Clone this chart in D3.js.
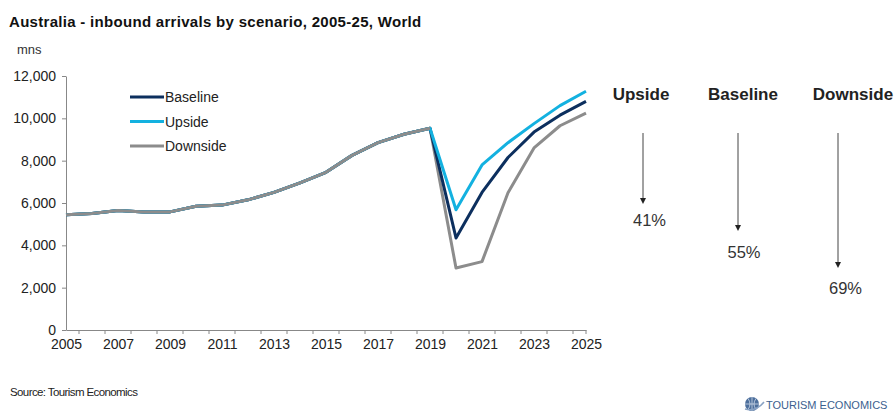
<!DOCTYPE html>
<html><head><meta charset="utf-8">
<script src="https://cdn.jsdelivr.net/npm/d3@7"></script>
<style>body{margin:0;background:#fff;}svg{display:block;font-family:"Liberation Sans",Arial,sans-serif;}</style>
</head><body>
<svg id="c" width="894" height="412"></svg>
<script>
const years = d3.range(2005, 2026);
const baseline = [5450,5500,5650,5580,5580,5850,5900,6150,6500,6950,7450,8250,8850,9250,9530,4350,6500,8150,9350,10150,10800];
const upside   = [5450,5500,5650,5580,5580,5850,5900,6150,6500,6950,7450,8250,8850,9250,9530,5680,7800,8850,9750,10600,11280];
const downside = [5450,5500,5650,5580,5580,5850,5900,6150,6500,6950,7450,8250,8850,9250,9530,2930,3230,6480,8600,9650,10250];
const yTicks = [0,2000,4000,6000,8000,10000,12000];
const xTickLabels = [2005,2007,2009,2011,2013,2015,2017,2019,2021,2023,2025];
const scenarioNames = ["Upside","Baseline","Downside"];
const declines = ["41%","55%","69%"];

const svg = d3.select("#c");
const x = d3.scaleLinear().domain([2005,2025]).range([66,586]);
const y = d3.scaleLinear().domain([0,12000]).range([330,76]);

svg.append("text").attr("x",9).attr("y",27).attr("font-size",15).attr("font-weight","bold").attr("fill","#111")
  .attr("letter-spacing",0.3).text("Australia - inbound arrivals by scenario, 2005-25, World");
svg.append("text").attr("x",17).attr("y",54).attr("font-size",13).attr("fill","#333").text("mns");

const yAxis = svg.append("g").attr("transform","translate(66,0)")
  .call(d3.axisLeft(y).tickValues(yTicks).tickFormat(d3.format(",")).tickSize(4).tickSizeOuter(0));
yAxis.select(".domain").attr("stroke","#888");
yAxis.selectAll(".tick line").attr("stroke","#888");
yAxis.selectAll("text").attr("font-size",14).attr("fill","#222").attr("x",-10).attr("font-family","Liberation Sans, Arial");

// x axis: labels at years, tick marks between years
const xAxis = svg.append("g").attr("transform","translate(0,330)")
  .call(d3.axisBottom(x).tickValues(xTickLabels).tickFormat(d => d).tickSize(0).tickSizeOuter(0));
xAxis.select(".domain").attr("stroke","#888");
xAxis.selectAll("text").attr("font-size",14).attr("fill","#222").attr("y",9).attr("font-family","Liberation Sans, Arial");
const midTicks = years.slice(0,-1).map(d => d + 0.5).concat([2025]);
svg.append("g").selectAll("line").data(midTicks).join("line")
  .attr("x1",d=>x(d)).attr("x2",d=>x(d)).attr("y1",330).attr("y2",334).attr("stroke","#888");

const series = [
  {name:"Downside", values:downside, color:"#8c8c8c"},
  {name:"Baseline", values:baseline, color:"#0c2f5e"},
  {name:"Upside", values:upside, color:"#13b1e0"}
];
const line = d3.line().x((d,i)=>x(years[i])).y(d=>y(d));
series.forEach(s => {
  svg.append("path").datum(s.values).attr("d",line).attr("fill","none")
    .attr("stroke",s.color).attr("stroke-width",3).attr("stroke-linejoin","round");
});
svg.append("path").datum(downside.slice(0,15)).attr("d",line).attr("fill","none")
  .attr("stroke","#8c8c8c").attr("stroke-width",3).attr("stroke-linejoin","round");

const legend = [{name:"Baseline",color:"#0c2f5e"},{name:"Upside",color:"#13b1e0"},{name:"Downside",color:"#8c8c8c"}];
legend.forEach((l,i) => {
  const ly = 97 + i*24.5;
  svg.append("line").attr("x1",130).attr("x2",164).attr("y1",ly).attr("y2",ly).attr("stroke",l.color).attr("stroke-width",3);
  svg.append("text").attr("x",165).attr("y",ly+5).attr("font-size",14).attr("fill","#222").text(l.name);
});

const hx = [641,743,853];
const ax = [643,738,838];
const tipY = [204,231,268];
const pctX = [649.5,744,845.5];
const pctY = [226,258,294];
scenarioNames.forEach((n,i) => {
  svg.append("text").attr("x",hx[i]).attr("y",100).attr("text-anchor","middle").attr("font-size",17)
    .attr("font-weight","bold").attr("fill","#222").text(n);
  svg.append("line").attr("x1",ax[i]).attr("x2",ax[i]).attr("y1",133).attr("y2",tipY[i]-4)
    .attr("stroke","#444").attr("stroke-width",1);
  svg.append("path").attr("d",`M${ax[i]-3},${tipY[i]-6}L${ax[i]+3},${tipY[i]-6}L${ax[i]},${tipY[i]}Z`).attr("fill","#222");
  svg.append("text").attr("x",pctX[i]).attr("y",pctY[i]).attr("text-anchor","middle").attr("font-size",16.5)
    .attr("fill","#333").text(declines[i]);
});

svg.append("text").attr("x",10).attr("y",396).attr("font-size",11.5).attr("fill","#222")
  .attr("letter-spacing",-0.6).text("Source: Tourism Economics");

const lg = svg.append("g").attr("transform","translate(752,404)");
lg.append("circle").attr("r",7).attr("fill","#4d6f9c");
lg.append("path").attr("d","M-7,0H7M0,-7V7M-4,-5.5Q0,0 -4,5.5M4,-5.5Q0,0 4,5.5").attr("stroke","#cfdbea").attr("stroke-width",0.8).attr("fill","none");
svg.append("path").attr("d","M745,409Q756,412 764,402").attr("stroke","#8aa3c4").attr("stroke-width",1.5).attr("fill","none");
svg.append("text").attr("x",766).attr("y",409).attr("font-size",11).attr("fill","#3c5f8f").text("TOURISM ECONOMICS");
</script>
</body></html>
